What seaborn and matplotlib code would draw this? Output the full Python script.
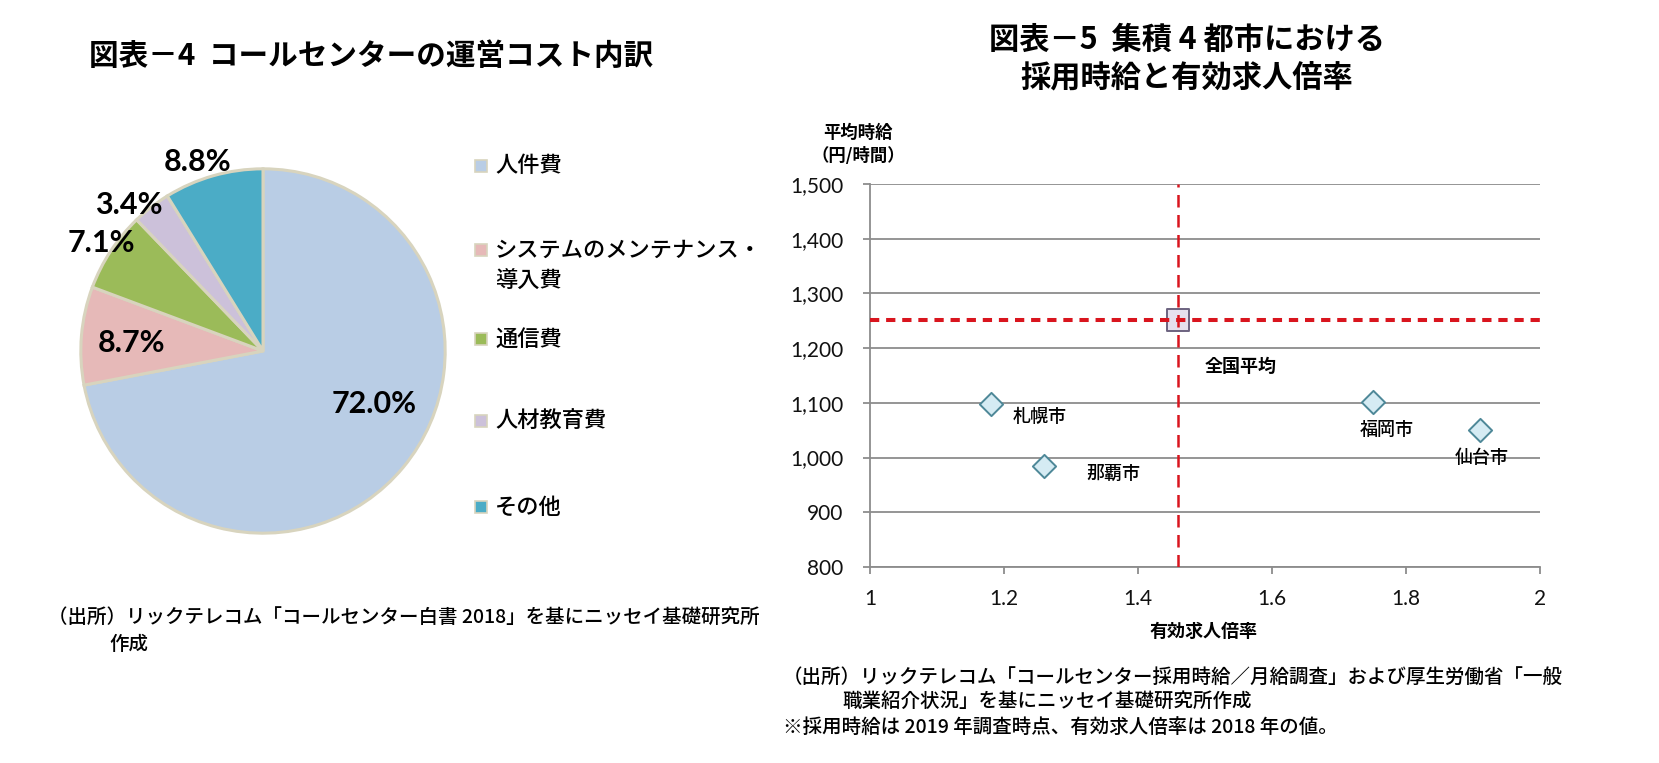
import matplotlib
matplotlib.use("Agg")
import matplotlib.pyplot as plt
import seaborn as sns
import pandas as pd
from matplotlib.patches import Rectangle

# ---------------- data ----------------
cost_labels = ["人件費", "システムのメンテナンス・\n導入費", "通信費", "人材教育費", "その他"]
cost_shares = [72.0, 8.7, 7.1, 3.4, 8.8]
cost_colors = ["#B9CDE5", "#E6B9B8", "#9BBB59", "#CCC1DA", "#4BACC6"]

cities = ["札幌市", "那覇市", "福岡市", "仙台市"]
city_ratio = [1.18, 1.26, 1.75, 1.91]
city_wage = [1098, 984, 1102, 1051]
avg_label = "全国平均"
avg_ratio = [1.46]
avg_wage = [1252]

x_ticks = [1, 1.2, 1.4, 1.6, 1.8, 2]
x_tick_labels = ["1", "1.2", "1.4", "1.6", "1.8", "2"]
y_ticks = [800, 900, 1000, 1100, 1200, 1300, 1400, 1500]
y_tick_labels = ["800", "900", "1,000", "1,100", "1,200", "1,300", "1,400", "1,500"]

title_left = "図表－4  コールセンターの運営コスト内訳"
title_right = "図表－5  集積 4 都市における\n採用時給と有効求人倍率"
note_left = ["（出所）リックテレコム「コールセンター白書 2018」を基にニッセイ基礎研究所", "作成"]
note_right = ["（出所）リックテレコム「コールセンター採用時給／月給調査」および厚生労働省「一般",
              "職業紹介状況」を基にニッセイ基礎研究所作成",
              "※採用時給は 2019 年調査時点、有効求人倍率は 2018 年の値。"]

# ---------------- layout ----------------
W, H = 1659, 763
sns.set_theme(style="white")
plt.rcParams['font.family'] = ['Noto Sans CJK JP', 'DejaVu Sans']

fig = plt.figure(figsize=(W / 100, H / 100), dpi=100)
fig.patch.set_facecolor("white")

def fx(px):
    return px / W

def fy(py):
    return 1 - py / H

# ---- pie ----
cx, cy, r = 263, 351, 184
ax1 = fig.add_axes([fx(cx - r), fy(cy + r), 2 * r / W, 2 * r / H])
wedges, _ = ax1.pie(cost_shares, colors=cost_colors, startangle=90, counterclock=False,
                    radius=1, wedgeprops=dict(edgecolor="#D8D4BE", linewidth=2.2))
ax1.set_xlim(-1.01, 1.01)
ax1.set_ylim(-1.01, 1.01)
ax1.axis("off")

pct_pos = [(0.609, -0.293), (-0.723, 0.043), (-0.886, 0.592), (-0.734, 0.804), (-0.359, 1.038)]
for v, (px, py) in zip(cost_shares, pct_pos):
    ax1.text(px, py, f"{v:.1f}%", ha="center", va="center", fontsize=22,
             fontweight="bold", family=["Lato", "DejaVu Sans"], color="black")

# legend of the pie
leg_y = [166, 250, 339, 421, 507]
for lab, col, ly in zip(cost_labels, cost_colors, leg_y):
    fig.patches.append(Rectangle((fx(475), fy(ly + 6)), 12 / W, 12 / H, transform=fig.transFigure,
                                 facecolor=col, edgecolor="#D8D4BE", linewidth=1.2))
    for j, line in enumerate(lab.split("\n")):
        fig.text(fx(495), fy(ly + 31 * j), line, ha="left", va="center", fontsize=16,
                 fontweight=500, color="black")

fig.text(fx(89), fy(56), title_left, ha="left", va="center", fontsize=21.3, fontweight="bold",
         color="black")
fig.text(fx(48), fy(617), note_left[0], ha="left", va="center", fontsize=14, fontweight=500,
         color="black")
fig.text(fx(109), fy(644), note_left[1], ha="left", va="center", fontsize=14, fontweight=500,
         color="black")

# ---- scatter ----
L, R, T, B = 870, 1540, 184, 567
ax2 = fig.add_axes([fx(L), fy(B), (R - L) / W, (B - T) / H])
df = pd.DataFrame({"ratio": city_ratio, "wage": city_wage, "city": cities})
sns.scatterplot(data=df, x="ratio", y="wage", marker="D", s=140, color="#D5EBF3",
                edgecolor="#4E8898", linewidth=1.4, ax=ax2, zorder=4)
sns.scatterplot(x=avg_ratio, y=avg_wage, marker="s", s=270, color="#E6E0EE",
                edgecolor="#6C6380", linewidth=1.4, ax=ax2, zorder=5)
ax2.axhline(avg_wage[0], color="#D9151E", lw=2.9, dashes=(2.3, 1.7), zorder=6)
ax2.axvline(avg_ratio[0], color="#D9151E", lw=1.8, dashes=(5, 3), zorder=6)

ax2.set_xlim(1, 2)
ax2.set_ylim(800, 1500)
ax2.set_xticks(x_ticks, x_tick_labels)
ax2.set_yticks(y_ticks, y_tick_labels)
ax2.grid(axis="y", color="#8C8C8C", lw=1.3)
ax2.grid(axis="x", visible=False)
ax2.set_axisbelow(True)
for s in ["top", "right"]:
    ax2.spines[s].set_visible(False)
for s in ["left", "bottom"]:
    ax2.spines[s].set_color("#8C8C8C")
    ax2.spines[s].set_linewidth(1.3)
ax2.tick_params(axis="both", direction="out", length=5, width=1.3, color="#8C8C8C",
                labelsize=15, labelcolor="#111111", bottom=True, left=True)
ax2.tick_params(axis="y", pad=14)
ax2.tick_params(axis="x", pad=11)
for lab in ax2.get_xticklabels() + ax2.get_yticklabels():
    lab.set_fontfamily(["Lato", "DejaVu Sans"])
ax2.set_xlabel("")
ax2.set_ylabel("")

offsets = [(49, -13), (69, -8), (14, -28), (2, -28)]
for name, x, y, (dx, dy) in zip(cities, city_ratio, city_wage, offsets):
    ax2.annotate(name, (x, y), xytext=(dx, dy), textcoords="offset pixels",
                 ha="center", va="center", fontsize=13, fontweight=500, color="black", zorder=7)
ax2.annotate(avg_label, (avg_ratio[0], avg_wage[0]), xytext=(62, -47), textcoords="offset pixels",
             ha="center", va="center", fontsize=13, fontweight="bold", color="black", zorder=7)

fig.text(fx(1204), fy(631), "有効求人倍率", ha="center", va="center", fontsize=13,
         fontweight="bold", color="black")
fig.text(fx(858), fy(144.5), "平均時給\n（円/時間）", ha="center", va="center", fontsize=12.5,
         fontweight="bold", linespacing=1.3, color="black")

fig.text(fx(1187), fy(58.5), title_right, ha="center", va="center", fontsize=21.8,
         fontweight="bold", linespacing=1.22, multialignment="center", color="black")
fig.text(fx(783), fy(677), note_right[0], ha="left", va="center", fontsize=14, fontweight=500,
         color="black")
fig.text(fx(842), fy(701), note_right[1], ha="left", va="center", fontsize=14, fontweight=500,
         color="black")
fig.text(fx(783), fy(727), note_right[2], ha="left", va="center", fontsize=14, fontweight=500,
         color="black")

fig.savefig("out.png", dpi=100, facecolor="white")
